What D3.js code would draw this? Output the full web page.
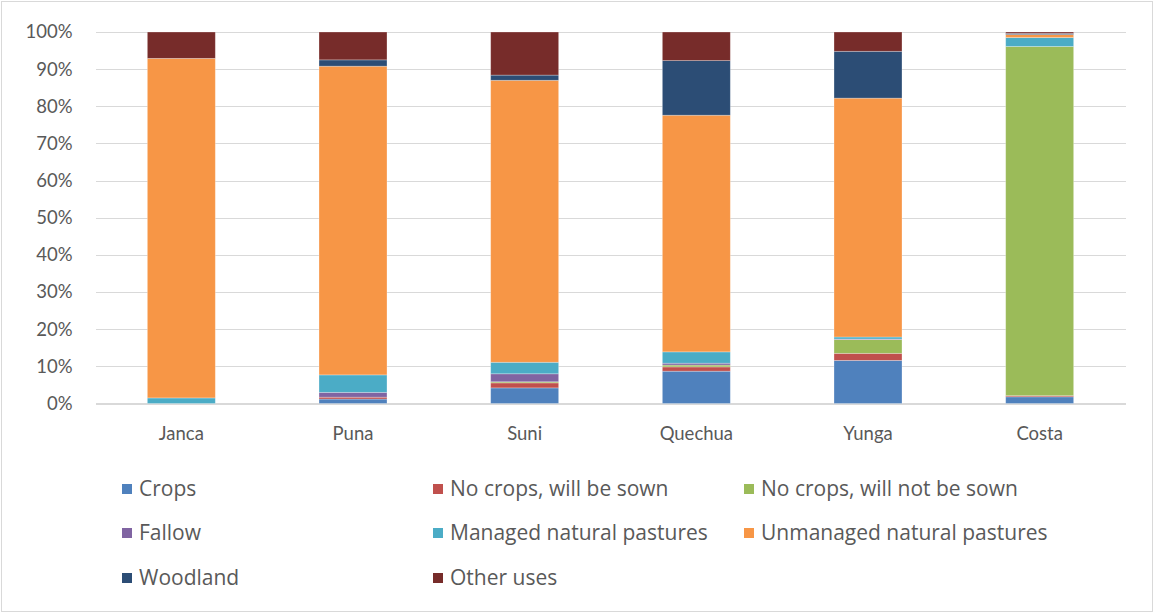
<!DOCTYPE html>
<html>
<head>
<meta charset="utf-8">
<script src="https://cdn.jsdelivr.net/npm/d3@7"></script>
<style>
  html, body { margin: 0; padding: 0; background: #fff; }
  svg { display: block; }
  text { font-family: Lato, "Open Sans", sans-serif; fill: #595959; }
  .legend text { font-family: "Open Sans", Lato, sans-serif; }
</style>
</head>
<body>
<svg id="chart" width="1154" height="613"></svg>
<script>
// Land use share by altitude zone (percent of area)
const zones = ["Janca", "Puna", "Suni", "Quechua", "Yunga", "Costa"];
const landUses = [
  "Crops", "No crops, will be sown", "No crops, will not be sown", "Fallow",
  "Managed natural pastures", "Unmanaged natural pastures", "Woodland", "Other uses"
];
const crops          = [0.0, 1.2, 4.2, 8.7, 11.6, 1.8];
const willBeSown     = [0.0, 0.5, 1.35, 1.15, 1.9, 0.3];
const willNotBeSown  = [0.0, 0.0, 0.3, 0.5, 3.7, 94.0];
const fallow         = [0.0, 1.3, 2.15, 0.5, 0.15, 0.0];
const managedPast    = [1.5, 4.7, 3.1, 3.05, 0.55, 2.4];
const unmanagedPast  = [91.4, 83.1, 75.9, 63.7, 64.3, 0.8];
const woodland       = [0.0, 1.7, 1.4, 14.7, 12.6, 0.3];
const otherUses      = [7.1, 7.5, 11.6, 7.7, 5.2, 0.4];
const yTicks = [0, 0.1, 0.2, 0.3, 0.4, 0.5, 0.6, 0.7, 0.8, 0.9, 1.0];

const seriesValues = [crops, willBeSown, willNotBeSown, fallow, managedPast, unmanagedPast, woodland, otherUses];
const colors = ["#4f81bd", "#c0504d", "#9bbb59", "#8064a2", "#4bacc6", "#f79646", "#2c4d75", "#772c2a"];

// Rows for d3.stack, normalised to shares of 1
const rows = zones.map((z, i) => {
  const r = { zone: z };
  let total = 0;
  seriesValues.forEach(s => total += s[i]);
  landUses.forEach((k, j) => r[k] = seriesValues[j][i] / total);
  return r;
});

const svg = d3.select("#chart");

// Outer chart frame
svg.append("rect")
  .attr("x", 1.5).attr("y", 1.5).attr("width", 1151).attr("height", 610)
  .attr("fill", "#fff").attr("stroke", "#d9d9d9").attr("stroke-width", 1);

const plot = { left: 95.5, right: 1125.5, top: 32, bottom: 403.5 };

const x = d3.scaleBand().domain(zones)
  .range([plot.left, plot.right])
  .paddingInner(0.604).paddingOuter(0.302);

const y = d3.scaleLinear().domain([0, 1]).range([plot.bottom, plot.top]);

// Horizontal gridlines
svg.append("g")
  .attr("transform", `translate(${plot.left},0)`)
  .call(d3.axisLeft(y).tickValues(yTicks).tickSize(-(plot.right - plot.left)).tickFormat(""))
  .call(g => g.select(".domain").remove())
  .call(g => g.selectAll("line")
    .attr("stroke", "#d9d9d9")
    .attr("stroke-width", d => d === 0 ? 1.6 : 1)
    .attr("shape-rendering", "crispEdges"));

// Y tick labels
svg.append("g")
  .attr("transform", `translate(${plot.left},0)`)
  .call(d3.axisLeft(y).tickValues(yTicks).tickSize(0).tickPadding(23).tickFormat(d3.format(".0%")))
  .call(g => g.select(".domain").remove())
  .call(g => g.selectAll("text").style("font-size", "18.5px").attr("fill", "#595959"));

// Stacked bars
const stack = d3.stack().keys(landUses);
const layers = stack(rows);

svg.append("g").selectAll("g")
  .data(layers)
  .join("g")
  .attr("fill", (d, i) => colors[i])
  .selectAll("rect")
  .data(d => d)
  .join("rect")
  .attr("x", d => x(d.data.zone))
  .attr("width", x.bandwidth())
  .attr("y", d => y(d[1]))
  .attr("height", d => Math.max(0, y(d[0]) - y(d[1])))
  .attr("stroke", "#ffffff")
  .attr("stroke-opacity", 0.35)
  .attr("stroke-width", 0.8);

// X category labels
svg.append("g")
  .attr("transform", `translate(0,${plot.bottom})`)
  .call(d3.axisBottom(x).tickSize(0).tickPadding(23))
  .call(g => g.select(".domain").remove())
  .call(g => g.selectAll("text").style("font-size", "18.5px").attr("fill", "#595959"));

// Legend: three columns, three rows
const legendCols = [122, 433, 744];
const legendRows = [489, 533, 578];
const legend = svg.append("g").attr("class", "legend");
landUses.forEach((name, i) => {
  const cx = legendCols[i % 3];
  const cy = legendRows[Math.floor(i / 3)];
  const item = legend.append("g").attr("transform", `translate(${cx},${cy})`);
  item.append("rect")
    .attr("x", 0).attr("y", -5).attr("width", 10).attr("height", 10)
    .attr("fill", colors[i]);
  item.append("text")
    .attr("x", 17).attr("y", 0).attr("dy", "0.35em")
    .style("font-size", "21px")
    .text(name);
});
</script>
</body>
</html>
